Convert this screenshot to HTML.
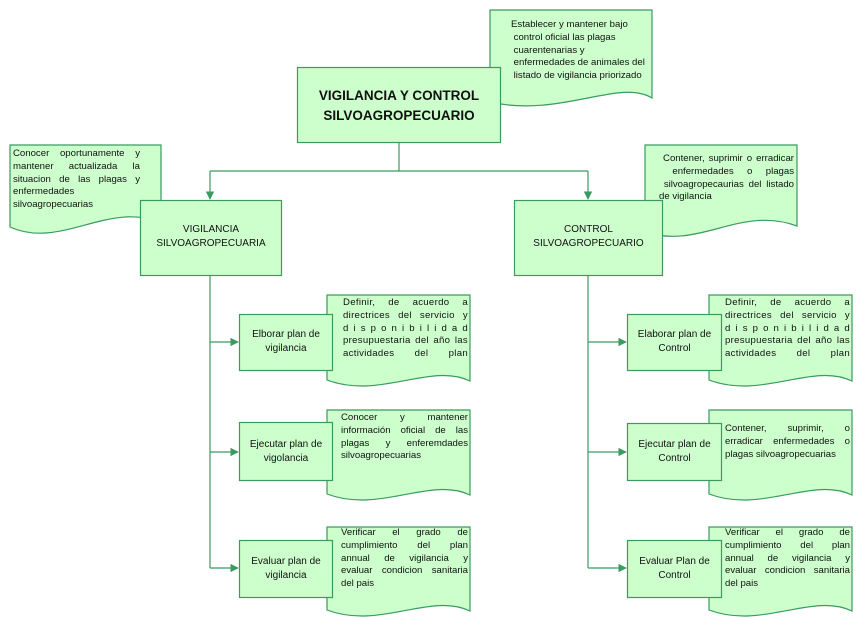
<!DOCTYPE html>
<html><head><meta charset="utf-8"><style>
body{margin:0;width:864px;height:620px;background:#fff;position:relative;overflow:hidden;font-family:"Liberation Sans",sans-serif;color:#111}
svg{position:absolute;left:0;top:0}
.t{position:absolute;font-size:9.6px;line-height:12.8px}
.t div{text-align:justify;text-align-last:justify;white-space:nowrap}
.t div.l{text-align-last:left}
.c{position:absolute;font-size:10px;line-height:14px;text-align:center}
</style></head><body>
<svg width="864" height="620">
<defs><marker id="a" viewBox="0 0 10 10" refX="9" refY="5" markerWidth="7" markerHeight="7" orient="auto"><path d="M0,0 L10,5 L0,10z" fill="#3a9a60"/></marker></defs>
<g fill="#ccffcc" stroke="#3a9a60" stroke-width="1.2">
<path d="M490,10 H652 V98 C620,78 560,118 490,102 Z"/>
<path d="M10,145 H161 V223 C110,200 60,250 10,227 Z"/>
<path d="M645,145 H797 V226 C740,205 700,250 645,232 Z"/>
<path d="M327,295 H470 V381 C430,362 380,400 327,380 Z"/>
<path d="M327,410 H470 V495 C430,476 380,514 327,494 Z"/>
<path d="M327,527 H470 V611 C430,592 380,630 327,610 Z"/>
<path d="M709,295 H852 V381 C812,362 762,400 709,380 Z"/>
<path d="M709,410 H852 V495 C812,476 762,514 709,494 Z"/>
<path d="M709,527 H852 V611 C812,592 762,630 709,610 Z"/>
</g>
<g fill="none" stroke="#3a9a60" stroke-width="1.2">
<path d="M399,142 V171 M210,171 H588"/>
<path d="M210,171 V199" marker-end="url(#a)"/>
<path d="M588,171 V199" marker-end="url(#a)"/>
<path d="M210,275 V568 M588,275 V568"/>
<path d="M210,342 H238" marker-end="url(#a)"/>
<path d="M210,452 H238" marker-end="url(#a)"/>
<path d="M210,568 H238" marker-end="url(#a)"/>
<path d="M588,342 H626" marker-end="url(#a)"/>
<path d="M588,452 H626" marker-end="url(#a)"/>
<path d="M588,568 H626" marker-end="url(#a)"/>
</g>
<g fill="#ccffcc" stroke="#3a9a60" stroke-width="1.2">
<rect x="297.5" y="67.5" width="203" height="75"/>
<rect x="140.5" y="200.5" width="141" height="75"/>
<rect x="514.5" y="200.5" width="148" height="75"/>
<rect x="239.5" y="314.5" width="93" height="56"/>
<rect x="239.5" y="422.5" width="93" height="58"/>
<rect x="239.5" y="540.5" width="93" height="57"/>
<rect x="627.5" y="314.5" width="94" height="56"/>
<rect x="627.5" y="423.5" width="94" height="57"/>
<rect x="627.5" y="540.5" width="94" height="57"/>
</g>
</svg>
<div class="t" style="left:511px;top:19px;width:140px"><div class="l">Establecer y mantener bajo</div><div class="l">&nbsp;control oficial las plagas</div><div class="l">&nbsp;cuarentenarias y</div><div class="l">&nbsp;enfermedades de animales del</div><div class="l">&nbsp;listado de vigilancia priorizado</div></div>
<div class="c" style="left:297px;top:86px;width:204px;font-size:13.5px;line-height:20px;font-weight:bold">VIGILANCIA Y CONTROL<br>SILVOAGROPECUARIO</div>
<div class="t" style="left:13px;top:148px;width:127px"><div>Conocer oportunamente y</div><div>mantener actualizada la</div><div>situacion de las plagas y</div><div class="l">enfermedades</div><div class="l">silvoagropecuarias</div></div>
<div class="c" style="left:140px;top:223px;width:142px">VIGILANCIA<br>SILVOAGROPECUARIA</div>
<div class="t" style="left:659px;top:153px;width:135px"><div>&nbsp;Contener, suprimir o erradicar</div><div>&nbsp;enfermedades o plagas</div><div>&nbsp;silvoagropecaurias del listado</div><div class="l">de vigilancia</div></div>
<div class="c" style="left:140px;top:223px;width:142px;display:none"></div>
<div class="c" style="left:514px;top:223px;width:149px">CONTROL<br>SILVOAGROPECUARIO</div>
<div class="c" style="left:239px;top:328px;width:94px">Elborar plan de<br>vigilancia</div>
<div class="c" style="left:239px;top:438px;width:94px">Ejecutar plan de<br>vigolancia</div>
<div class="c" style="left:239px;top:555px;width:94px">Evaluar plan de<br>vigilancia</div>
<div class="c" style="left:627px;top:328px;width:95px">Elaborar plan de<br>Control</div>
<div class="c" style="left:627px;top:438px;width:95px">Ejecutar plan de<br>Control</div>
<div class="c" style="left:627px;top:555px;width:95px">Evaluar Plan de<br>Control</div>
<div class="t" style="left:343px;top:297px;width:125px;letter-spacing:0.3px"><div>Definir, de acuerdo a</div><div>directrices del servicio y</div><div>d i s p o n i b i l i d a d</div><div>presupuestaria del año las</div><div>actividades del plan</div></div>
<div class="t" style="left:341px;top:412px;width:127px"><div>Conocer y mantener</div><div>información oficial de las</div><div>plagas y enferemdades</div><div class="l">silvoagropecuarias</div></div>
<div class="t" style="left:341px;top:527px;width:127px"><div>Verificar el grado de</div><div>cumplimiento del plan</div><div>annual de vigilancia y</div><div>evaluar condicion sanitaria</div><div class="l">del pais</div></div>
<div class="t" style="left:725px;top:297px;width:125px;letter-spacing:0.3px"><div>Definir, de acuerdo a</div><div>directrices del servicio y</div><div>d i s p o n i b i l i d a d</div><div>presupuestaria del año las</div><div>actividades del plan</div></div>
<div class="t" style="left:725px;top:423px;width:125px"><div>Contener, suprimir, o</div><div>erradicar enfermedades o</div><div class="l">plagas silvoagropecuarias</div></div>
<div class="t" style="left:725px;top:527px;width:125px"><div>Verificar el grado de</div><div>cumplimiento del plan</div><div>annual de vigilancia y</div><div>evaluar condicion sanitaria</div><div class="l">del pais</div></div>
</body></html>
